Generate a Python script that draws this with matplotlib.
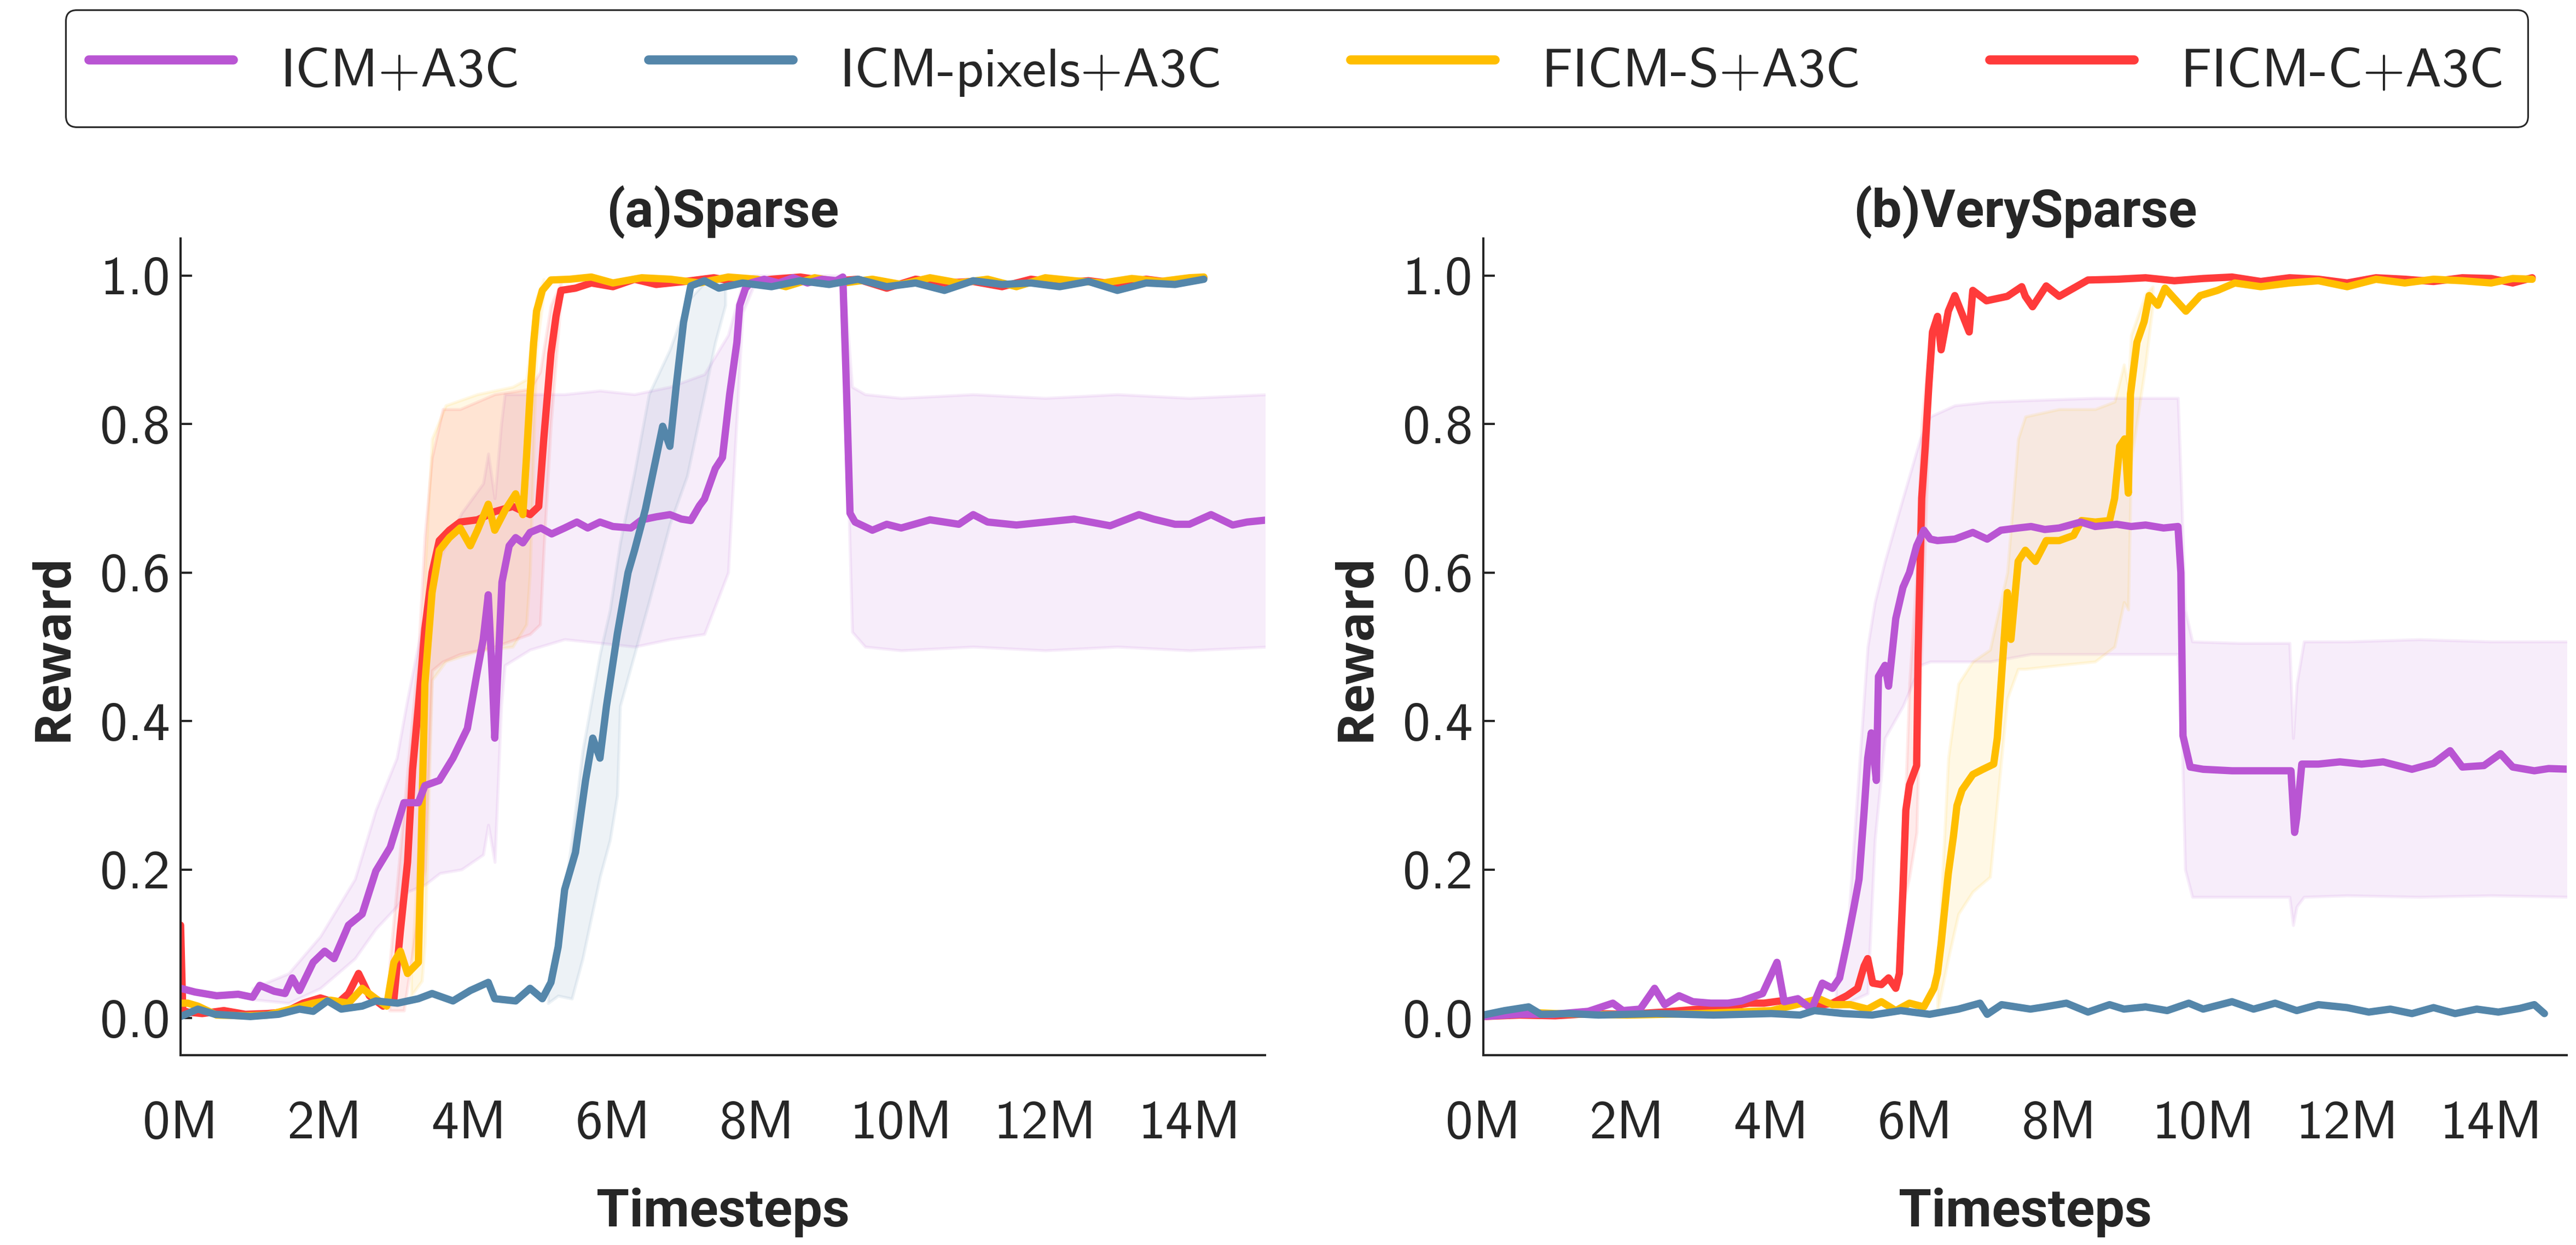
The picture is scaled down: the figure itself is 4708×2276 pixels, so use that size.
import numpy as np
import matplotlib
matplotlib.use('Agg')
import matplotlib.pyplot as plt
from matplotlib.lines import Line2D
from matplotlib.font_manager import FontProperties

# ---------------- data (timesteps in millions) ----------------
labels = ['ICM+A3C', 'ICM-pixels+A3C', 'FICM-S+A3C', 'FICM-C+A3C']
colors = ['#B955D3', '#5486AA', '#FFBE00', '#FF3B3B']
yticks = [0.0, 0.2, 0.4, 0.6, 0.8, 1.0]
xticks = [0, 2, 4, 6, 8, 10, 12, 14]

# (a) Sparse
a_icm_x = [0, 0.2, 0.5, 0.8, 1.0, 1.1, 1.3, 1.45, 1.55, 1.65, 1.84, 2.0, 2.13, 2.33, 2.52, 2.71, 2.91, 3.1, 3.3, 3.39,
           3.59, 3.78, 3.98, 4.12, 4.2, 4.27, 4.33, 4.36, 4.46, 4.56, 4.65, 4.75, 4.85, 5.0, 5.15, 5.33, 5.5, 5.65, 5.82, 6.0,
           6.25, 6.4, 6.6, 6.79, 6.95, 7.08, 7.2, 7.27, 7.42, 7.52, 7.62, 7.72, 7.76, 7.84, 7.91, 8.1, 8.3, 8.5, 8.7, 8.9,
           9.1, 9.19, 9.24, 9.29, 9.36, 9.6, 9.8, 10.0, 10.4, 10.8, 11.0, 11.2, 11.6, 12.0, 12.4, 12.9, 13.3, 13.5, 13.8, 14.0,
           14.3, 14.6, 14.8, 15.1]
a_icm_y = [0.04, 0.035, 0.03, 0.032, 0.028, 0.044, 0.036, 0.033, 0.054, 0.037, 0.075, 0.09, 0.08, 0.125, 0.14, 0.198, 0.23, 0.29, 0.29, 0.313,
           0.32, 0.35, 0.39, 0.468, 0.51, 0.57, 0.45, 0.377, 0.587, 0.636, 0.647, 0.64, 0.654, 0.66, 0.652, 0.66, 0.668, 0.66, 0.668, 0.662,
           0.66, 0.671, 0.675, 0.678, 0.672, 0.67, 0.69, 0.699, 0.74, 0.755, 0.84, 0.91, 0.96, 0.983, 0.99, 0.995, 0.99, 0.997, 0.99, 0.995,
           0.993, 0.998, 0.85, 0.68, 0.668, 0.657, 0.665, 0.66, 0.671, 0.665, 0.678, 0.668, 0.664, 0.668, 0.672, 0.663, 0.678, 0.672, 0.665, 0.665,
           0.678, 0.664, 0.668, 0.671]
a_icm_bx = [1.0, 1.5, 1.94, 2.42, 2.71, 3.0, 3.15, 3.4, 3.6, 3.9, 4.2, 4.27, 4.36, 4.45, 4.5, 4.85, 5.33, 5.82, 6.3, 6.79,
            7.27, 7.6, 7.8, 7.95, 8.5, 9.19, 9.24, 9.32, 9.5, 10.0, 11.0, 12.0, 13.0, 14.0, 15.1]
a_icm_hi = [0.04, 0.06, 0.11, 0.187, 0.28, 0.35, 0.43, 0.55, 0.62, 0.68, 0.72, 0.76, 0.7, 0.8, 0.84, 0.84, 0.84, 0.845, 0.84, 0.85,
            0.867, 0.92, 0.99, 1.0, 1.0, 1.0, 0.95, 0.85, 0.84, 0.835, 0.84, 0.835, 0.84, 0.835, 0.84]
a_icm_lo = [0.025, 0.02, 0.04, 0.08, 0.12, 0.15, 0.17, 0.18, 0.195, 0.2, 0.22, 0.26, 0.21, 0.42, 0.475, 0.496, 0.51, 0.505, 0.5, 0.51,
            0.517, 0.6, 0.95, 0.985, 0.99, 0.99, 0.8, 0.52, 0.5, 0.495, 0.5, 0.495, 0.5, 0.495, 0.5]

a_pix_x = [0, 0.24, 0.48, 0.97, 1.36, 1.65, 1.84, 2.04, 2.23, 2.52, 2.71, 3.01, 3.30, 3.49, 3.78, 4.02, 4.27, 4.36, 4.65, 4.85,
           5.02, 5.14, 5.24, 5.33, 5.48, 5.62, 5.72, 5.82, 5.91, 6.06, 6.21, 6.30, 6.45, 6.59, 6.69, 6.79, 6.88, 6.98, 7.08, 7.27,
           7.47, 7.8, 8.2, 8.6, 9.0, 9.4, 9.8, 10.2, 10.6, 11.0, 11.4, 11.8, 12.2, 12.6, 13.0, 13.4, 13.8, 14.2]
a_pix_y = [0.002, 0.012, 0.005, 0.002, 0.005, 0.012, 0.009, 0.023, 0.012, 0.016, 0.023, 0.02, 0.026, 0.033, 0.023, 0.037, 0.048, 0.026, 0.023, 0.04,
           0.026, 0.048, 0.096, 0.173, 0.223, 0.32, 0.377, 0.35, 0.42, 0.517, 0.60, 0.63, 0.685, 0.75, 0.797, 0.77, 0.853, 0.937, 0.986, 0.993,
           0.983, 0.99, 0.985, 0.993, 0.988, 0.995, 0.985, 0.99, 0.98, 0.993, 0.988, 0.99, 0.985, 0.992, 0.98, 0.99, 0.988, 0.995]
a_pix_bx = [5.1, 5.24, 5.43, 5.58, 5.82, 5.96, 6.06, 6.1, 6.3, 6.5, 6.79, 7.03, 7.27, 7.42, 7.56]
a_pix_hi = [0.04, 0.11, 0.24, 0.36, 0.49, 0.55, 0.615, 0.64, 0.735, 0.84, 0.9, 0.965, 0.99, 0.995, 0.995]
a_pix_lo = [0.02, 0.03, 0.026, 0.08, 0.19, 0.24, 0.3, 0.42, 0.49, 0.56, 0.665, 0.73, 0.84, 0.91, 0.96]

a_fs_x = [0, 0.1, 0.24, 0.5, 0.9, 1.2, 1.45, 1.84, 2.08, 2.33, 2.52, 2.71, 2.86, 2.96, 3.05, 3.15, 3.30, 3.35, 3.39, 3.49,
          3.59, 3.73, 3.88, 4.02, 4.12, 4.27, 4.36, 4.51, 4.65, 4.75, 4.80, 4.85, 4.90, 4.94, 5.02, 5.14, 5.4, 5.7, 6.0, 6.4,
          6.8, 7.2, 7.6, 8.0, 8.4, 8.8, 9.2, 9.6, 10.0, 10.4, 10.8, 11.2, 11.6, 12.0, 12.4, 12.8, 13.2, 13.6, 14.0, 14.2]
a_fs_y = [0.02, 0.02, 0.016, 0.004, 0.003, 0.004, 0.01, 0.02, 0.024, 0.02, 0.04, 0.026, 0.016, 0.075, 0.09, 0.06, 0.075, 0.28, 0.45, 0.573,
          0.63, 0.647, 0.66, 0.636, 0.657, 0.692, 0.657, 0.685, 0.706, 0.678, 0.755, 0.84, 0.91, 0.952, 0.98, 0.994, 0.995, 0.998, 0.99, 0.997,
          0.995, 0.99, 0.998, 0.995, 0.985, 0.997, 0.99, 0.995, 0.988, 0.997, 0.99, 0.995, 0.985, 0.997, 0.993, 0.99, 0.996, 0.992, 0.997, 0.998]
a_fs_bx = [3.2, 3.35, 3.39, 3.49, 3.68, 4.12, 4.61, 4.80, 4.85, 4.94, 5.04]
a_fs_hi = [0.06, 0.3, 0.6, 0.78, 0.825, 0.84, 0.85, 0.86, 0.9, 0.97, 0.995]
a_fs_lo = [0.03, 0.05, 0.1, 0.455, 0.48, 0.494, 0.5, 0.53, 0.6, 0.9, 0.975]

a_fc_x = [0, 0.03, 0.1, 0.3, 0.6, 0.9, 1.2, 1.45, 1.7, 1.94, 2.18, 2.33, 2.47, 2.62, 2.81, 2.96, 3.05, 3.15, 3.22, 3.30,
          3.39, 3.49, 3.59, 3.73, 3.88, 4.12, 4.36, 4.61, 4.85, 4.97, 5.04, 5.14, 5.21, 5.28, 5.48, 5.7, 6.0, 6.3, 6.6, 7.0,
          7.4, 7.8, 8.2, 8.6, 9.0, 9.4, 9.8, 10.2, 10.6, 11.0, 11.4, 11.8, 12.2, 12.6, 13.0, 13.4, 13.8, 14.2]
a_fc_y = [0.125, 0.01, 0.008, 0.006, 0.01, 0.005, 0.006, 0.008, 0.02, 0.027, 0.02, 0.033, 0.06, 0.03, 0.016, 0.025, 0.117, 0.21, 0.335, 0.42,
          0.524, 0.60, 0.643, 0.657, 0.668, 0.671, 0.682, 0.689, 0.678, 0.689, 0.78, 0.895, 0.945, 0.98, 0.983, 0.99, 0.985, 0.995, 0.988, 0.992,
          0.997, 0.99, 0.995, 0.998, 0.992, 0.995, 0.983, 0.995, 0.99, 0.992, 0.985, 0.995, 0.99, 0.993, 0.988, 0.995, 0.99, 0.997]
a_fc_bx = [2.9, 3.1, 3.3, 3.39, 3.49, 3.64, 3.88, 4.36, 4.85, 4.99, 5.04, 5.14, 5.28]
a_fc_hi = [0.07, 0.28, 0.49, 0.65, 0.755, 0.82, 0.82, 0.84, 0.847, 0.87, 0.9, 0.96, 0.99]
a_fc_lo = [0.01, 0.01, 0.14, 0.2, 0.468, 0.48, 0.49, 0.5, 0.517, 0.53, 0.63, 0.8, 0.97]

# (b) VerySparse
b_icm_x = [0, 0.49, 0.97, 1.46, 1.80, 1.94, 2.18, 2.38, 2.52, 2.72, 2.91, 3.16, 3.40, 3.59, 3.88, 4.08, 4.18, 4.37, 4.56, 4.71,
           4.85, 4.95, 5.05, 5.15, 5.22, 5.29, 5.34, 5.39, 5.46, 5.49, 5.58, 5.63, 5.73, 5.83, 5.92, 6.02, 6.12, 6.21, 6.31, 6.55,
           6.80, 7.0, 7.19, 7.43, 7.61, 7.8, 8.0, 8.3, 8.5, 8.8, 9.0, 9.2, 9.45, 9.65, 9.69, 9.72, 9.82, 10.0, 10.4, 10.8,
           11.22, 11.27, 11.3, 11.37, 11.6, 11.9, 12.2, 12.5, 12.9, 13.2, 13.43, 13.6, 13.9, 14.13, 14.3, 14.6, 14.8, 15.1]
b_icm_y = [0.002, 0.005, 0.005, 0.009, 0.02, 0.01, 0.012, 0.04, 0.018, 0.03, 0.022, 0.02, 0.02, 0.023, 0.033, 0.075, 0.022, 0.026, 0.012, 0.047,
           0.04, 0.054, 0.1, 0.15, 0.187, 0.278, 0.35, 0.384, 0.32, 0.46, 0.475, 0.447, 0.538, 0.58, 0.6, 0.636, 0.657, 0.645, 0.643, 0.645,
           0.654, 0.645, 0.657, 0.66, 0.662, 0.658, 0.66, 0.668, 0.662, 0.665, 0.662, 0.664, 0.66, 0.662, 0.6, 0.38, 0.338, 0.335, 0.333, 0.333,
           0.333, 0.25, 0.27, 0.342, 0.342, 0.345, 0.342, 0.345, 0.335, 0.343, 0.36, 0.338, 0.34, 0.356, 0.338, 0.333, 0.336, 0.335]
b_icm_bx = [4.9, 5.05, 5.34, 5.44, 5.58, 5.83, 6.07, 6.21, 6.55, 7.04, 7.61, 8.5, 9.65, 9.7, 9.75, 9.85, 10.5, 11.2, 11.25, 11.3,
            11.4, 12.0, 13.0, 14.0, 15.1]
b_icm_hi = [0.06, 0.1, 0.5, 0.56, 0.615, 0.7, 0.78, 0.81, 0.825, 0.83, 0.832, 0.835, 0.835, 0.7, 0.55, 0.507, 0.505, 0.505, 0.377, 0.45,
            0.507, 0.507, 0.51, 0.507, 0.507]
b_icm_lo = [0.01, 0.02, 0.033, 0.24, 0.377, 0.42, 0.475, 0.48, 0.48, 0.48, 0.49, 0.49, 0.49, 0.4, 0.2, 0.163, 0.163, 0.163, 0.125, 0.15,
            0.163, 0.165, 0.163, 0.165, 0.163]

b_pix_x = [0, 0.3, 0.63, 0.8, 1.2, 1.6, 2.0, 2.4, 2.8, 3.2, 3.6, 4.0, 4.4, 4.6, 5.0, 5.4, 5.8, 6.2, 6.6, 6.9,
           7.0, 7.2, 7.6, 7.8, 8.1, 8.4, 8.7, 8.9, 9.2, 9.5, 9.8, 10.0, 10.4, 10.7, 11.0, 11.3, 11.6, 12.0, 12.3, 12.6,
           12.9, 13.2, 13.5, 13.8, 14.1, 14.4, 14.6, 14.74]
b_pix_y = [0.004, 0.01, 0.015, 0.005, 0.006, 0.004, 0.005, 0.006, 0.005, 0.004, 0.005, 0.006, 0.004, 0.01, 0.006, 0.004, 0.01, 0.005, 0.012, 0.02,
           0.005, 0.018, 0.012, 0.015, 0.02, 0.008, 0.018, 0.012, 0.015, 0.01, 0.02, 0.012, 0.022, 0.012, 0.02, 0.01, 0.018, 0.014, 0.008, 0.012,
           0.006, 0.014, 0.006, 0.012, 0.008, 0.013, 0.018, 0.006]

b_fs_x = [0, 0.5, 1.0, 1.5, 2.0, 2.5, 3.0, 3.5, 4.0, 4.35, 4.66, 4.85, 5.1, 5.34, 5.53, 5.73, 5.92, 6.12, 6.26, 6.31,
          6.36, 6.46, 6.53, 6.58, 6.65, 6.80, 6.94, 7.09, 7.14, 7.19, 7.28, 7.33, 7.43, 7.53, 7.67, 7.82, 8.0, 8.2, 8.31, 8.5,
          8.7, 8.77, 8.84, 8.91, 8.96, 8.99, 9.08, 9.18, 9.25, 9.37, 9.47, 9.76, 9.96, 10.2, 10.44, 10.8, 11.2, 11.6, 12.0, 12.4,
          12.8, 13.2, 13.6, 14.0, 14.3, 14.57]
b_fs_y = [0.004, 0.008, 0.006, 0.005, 0.004, 0.005, 0.006, 0.008, 0.01, 0.018, 0.026, 0.018, 0.018, 0.012, 0.022, 0.01, 0.02, 0.015, 0.04, 0.06,
          0.1, 0.195, 0.244, 0.286, 0.307, 0.328, 0.335, 0.342, 0.377, 0.447, 0.573, 0.51, 0.615, 0.63, 0.615, 0.643, 0.643, 0.65, 0.67, 0.668,
          0.67, 0.7, 0.77, 0.78, 0.707, 0.84, 0.91, 0.938, 0.973, 0.96, 0.983, 0.952, 0.973, 0.98, 0.99, 0.985, 0.99, 0.993, 0.985, 0.995,
          0.99, 0.995, 0.993, 0.99, 0.996, 0.995]
b_fs_bx = [6.31, 6.46, 6.6, 6.8, 7.04, 7.28, 7.43, 7.53, 8.0, 8.5, 8.77, 8.9, 8.96, 9.0, 9.2, 9.3]
b_fs_hi = [0.06, 0.35, 0.45, 0.48, 0.496, 0.6, 0.78, 0.81, 0.82, 0.82, 0.83, 0.88, 0.85, 0.92, 0.975, 0.985]
b_fs_lo = [0.01, 0.08, 0.14, 0.17, 0.19, 0.43, 0.47, 0.47, 0.475, 0.48, 0.5, 0.56, 0.55, 0.75, 0.88, 0.96]

b_fc_x = [0, 0.5, 1.0, 1.5, 2.0, 2.5, 3.0, 3.4, 3.69, 3.9, 4.13, 4.4, 4.61, 4.85, 5.05, 5.20, 5.29, 5.34, 5.41, 5.53,
          5.63, 5.73, 5.78, 5.83, 5.87, 5.92, 6.02, 6.04, 6.09, 6.14, 6.19, 6.24, 6.31, 6.36, 6.46, 6.55, 6.75, 6.8, 6.99, 7.28,
          7.48, 7.53, 7.63, 7.82, 8.0, 8.4, 8.8, 9.2, 9.6, 10.0, 10.4, 10.8, 11.2, 11.6, 12.0, 12.4, 12.8, 13.2, 13.6, 14.0,
          14.3, 14.57]
b_fc_y = [0.002, 0.004, 0.003, 0.006, 0.005, 0.008, 0.012, 0.015, 0.02, 0.02, 0.023, 0.02, 0.016, 0.02, 0.03, 0.04, 0.07, 0.08, 0.047, 0.045,
          0.054, 0.04, 0.06, 0.173, 0.28, 0.314, 0.34, 0.49, 0.7, 0.77, 0.853, 0.924, 0.945, 0.9, 0.952, 0.973, 0.924, 0.98, 0.966, 0.972,
          0.985, 0.972, 0.958, 0.986, 0.972, 0.994, 0.995, 0.997, 0.993, 0.996, 0.998, 0.992, 0.997, 0.995, 0.99, 0.997, 0.995, 0.992, 0.997, 0.996,
          0.99, 0.997]
b_fc_bx = [5.83, 5.92, 6.02, 6.09, 6.19]
b_fc_hi = [0.2, 0.45, 0.6, 0.8, 0.9]
b_fc_lo = [0.15, 0.19, 0.25, 0.5, 0.8]

INK = '#262626'
FS = 36


def draw_panel(ax, title, lines, bands):
    # 信頼区間の帯
    for (bx, lo, hi), c in bands:
        ax.fill_between(bx, lo, hi, color=c, alpha=0.1, lw=2)
    # 平均曲線 (FICM-C, FICM-S, ICM, ICM-pixels の順に重ねる)
    for (x, y), c in lines:
        ax.plot(x, y, color=c, lw=4.8, solid_joinstyle='round', solid_capstyle='round')

    ax.set_xlim(0, 15.05)
    ax.set_ylim(-0.05, 1.05)
    ax.set_yticks(yticks)
    ax.set_yticklabels([f'{v:.1f}' for v in yticks], fontfamily='cmss10', fontsize=FS, color=INK)
    ax.set_xticks(xticks)
    ax.set_xticklabels([f'{v}M' for v in xticks], fontfamily='cmss10', fontsize=FS, color=INK)
    ax.tick_params(axis='y', direction='in', length=7.5, width=1.45, color=INK, pad=7)
    ax.tick_params(axis='x', length=0, pad=30)

    for s in ['top', 'right']:
        ax.spines[s].set_visible(False)
    for s in ['left', 'bottom']:
        ax.spines[s].set_color(INK)
        ax.spines[s].set_linewidth(1.45)

    ax.set_title(title, fontfamily='Roboto', fontweight='bold', fontsize=35, color=INK, pad=2)
    ax.set_xlabel('Timesteps', fontfamily='Roboto', fontweight='bold', fontsize=35, color=INK, labelpad=25)
    ax.set_ylabel('Reward', fontfamily='Open Sans', fontweight='bold', fontsize=33, color=INK, labelpad=14)


fig = plt.figure(figsize=(23.54, 11.38), dpi=200)
ax_a = fig.add_axes([0.0701, 0.1525, 0.4210, 0.656])
ax_b = fig.add_axes([0.5758, 0.1525, 0.4206, 0.656])

c_icm, c_pix, c_fs, c_fc = colors

draw_panel(ax_a, '(a)Sparse',
           [((a_fc_x, a_fc_y), c_fc), ((a_fs_x, a_fs_y), c_fs),
            ((a_icm_x, a_icm_y), c_icm), ((a_pix_x, a_pix_y), c_pix)],
           [((a_icm_bx, a_icm_lo, a_icm_hi), c_icm), ((a_pix_bx, a_pix_lo, a_pix_hi), c_pix),
            ((a_fs_bx, a_fs_lo, a_fs_hi), c_fs), ((a_fc_bx, a_fc_lo, a_fc_hi), c_fc)])

draw_panel(ax_b, '(b)VerySparse',
           [((b_fc_x, b_fc_y), c_fc), ((b_fs_x, b_fs_y), c_fs),
            ((b_icm_x, b_icm_y), c_icm), ((b_pix_x, b_pix_y), c_pix)],
           [((b_icm_bx, b_icm_lo, b_icm_hi), c_icm), ((b_fs_bx, b_fs_lo, b_fs_hi), c_fs),
            ((b_fc_bx, b_fc_lo, b_fc_hi), c_fc)])

# 凡例
handles = [Line2D([0], [0], color=c, lw=6, solid_capstyle='round') for c in colors]
leg = fig.legend(handles, labels, loc='upper center', bbox_to_anchor=(0.5034, 1 - 18 / 2276),
                 ncol=4, prop=FontProperties(family='cmss10', size=FS), frameon=True, fancybox=True,
                 handlelength=2.64, handletextpad=0.86, columnspacing=2.35, borderpad=0.42,
                 handleheight=1.62, borderaxespad=0)
leg.get_frame().set_edgecolor(INK)
leg.get_frame().set_linewidth(1.1)
leg.get_frame().set_alpha(1)
for t in leg.get_texts():
    t.set_color(INK)

fig.savefig('out.png', dpi=200)
